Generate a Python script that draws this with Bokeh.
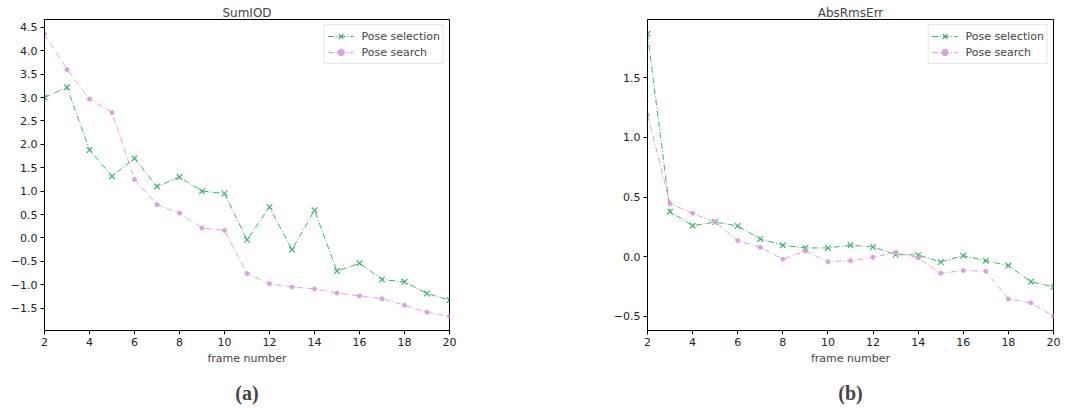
from bokeh.plotting import figure
from bokeh.layouts import row
from bokeh.models import Range1d, FixedTicker, CustomJSTickFormatter, Title
from bokeh.embed import file_html
from bokeh.resources import INLINE

frames = list(range(2, 21))

sumiod_selection = [3.00, 3.22, 1.88, 1.32, 1.70, 1.10, 1.30, 1.00, 0.95, -0.04,
                    0.66, -0.25, 0.59, -0.71, -0.54, -0.89, -0.94, -1.19, -1.33]
sumiod_search = [4.36, 3.60, 2.97, 2.68, 1.25, 0.71, 0.53, 0.21, 0.16, -0.76,
                 -0.98, -1.05, -1.09, -1.18, -1.24, -1.30, -1.44, -1.59, -1.68]

abs_selection = [1.87, 0.377, 0.26, 0.29, 0.257, 0.148, 0.095, 0.073, 0.073, 0.095,
                 0.081, 0.017, 0.014, -0.045, 0.008, -0.034, -0.075, -0.21, -0.254]
abs_search = [1.19, 0.447, 0.363, 0.29, 0.134, 0.078, -0.022, 0.047, -0.042, -0.034,
              -0.006, 0.036, -0.011, -0.14, -0.117, -0.123, -0.355, -0.388, -0.50]

x_ticks = [2, 4, 6, 8, 10, 12, 14, 16, 18, 20]
sumiod_yticks = [-1.5, -1.0, -0.5, 0.0, 0.5, 1.0, 1.5, 2.0, 2.5, 3.0, 3.5, 4.0, 4.5]
abs_yticks = [-0.5, 0.0, 0.5, 1.0, 1.5]

GREEN = "#3cb371"
PINK = "#dda0dd"
FONT = "DejaVu Sans"

fmt = CustomJSTickFormatter(code="""
    var s = (Math.round(tick*10)/10).toFixed(1);
    if (s === "-0.0") s = "0.0";
    return s.replace('-', '\u2212');
""")
xfmt = CustomJSTickFormatter(code="return String(tick);")


def make(title, sel, sea, yticks, yr, caption, left, right):
    p = figure(width=539, height=418, output_backend="svg", toolbar_location=None,
               x_range=Range1d(2, 20), y_range=Range1d(*yr),
               min_border_left=left, min_border_right=right,
               min_border_top=19, min_border_bottom=88)
    p.title.text = title
    p.title.align = "center"
    p.title.text_font = FONT
    p.title.text_font_size = "12px"
    p.title.text_font_style = "normal"
    p.title.standoff = 0
    p.xgrid.visible = False
    p.ygrid.visible = False
    p.outline_line_color = "black"
    p.outline_line_width = 1
    p.outline_line_alpha = 1
    for ax in (p.xaxis[0], p.yaxis[0]):
        ax.axis_line_color = "black"
        ax.major_tick_line_color = "black"
        ax.major_tick_out = 4
        ax.major_tick_in = 0
        ax.minor_tick_line_color = None
        ax.major_label_text_font = FONT
        ax.major_label_text_font_size = "11px"
        ax.major_label_text_color = "#222222"
        ax.major_label_standoff = 3
    p.xaxis.ticker = FixedTicker(ticks=x_ticks)
    p.xaxis.formatter = xfmt
    p.yaxis.ticker = FixedTicker(ticks=yticks)
    p.yaxis.formatter = fmt
    p.xaxis.axis_label = "frame number"
    p.xaxis.axis_label_text_font = FONT
    p.xaxis.axis_label_text_font_size = "11px"
    p.xaxis.axis_label_text_font_style = "normal"
    p.xaxis.axis_label_standoff = 3

    p.line(frames, sel, color=GREEN, line_width=1, line_dash="6 2 1 2",
           legend_label="Pose selection")
    p.scatter(frames, sel, marker="x", size=8, line_color=GREEN, line_width=1.2,
              legend_label="Pose selection")
    p.line(frames, sea, color=PINK, line_width=1, line_dash="6 2 1 2",
           legend_label="Pose search")
    p.scatter(frames, sea, marker="circle", size=4, fill_color=PINK, line_color=PINK,
              legend_label="Pose search")

    lg = p.legend[0]
    lg.location = "top_right"
    lg.label_text_font = FONT
    lg.label_text_font_size = "11px"
    lg.border_line_color = "#cccccc"
    lg.border_line_width = 1
    lg.background_fill_alpha = 0.9
    lg.margin = 5
    lg.padding = 3
    lg.spacing = 0
    lg.glyph_width = 26
    lg.glyph_height = 16
    lg.label_height = 16
    lg.label_standoff = 8

    cap = Title(text=caption, align="center", text_font="Liberation Serif",
                text_font_size="20px", text_font_style="bold", standoff=24)
    p.add_layout(cap, "below")
    return p


p1 = make("SumIOD", sumiod_selection, sumiod_search, sumiod_yticks, (-1.98, 4.67),
          "(a)", 44, 90)
p2 = make("AbsRmsErr", abs_selection, abs_search, abs_yticks, (-0.62, 1.99),
          "(b)", 108, 25)

layout = row(p1, p2, spacing=0)
open("out.html", "w").write(file_html(layout, INLINE))
